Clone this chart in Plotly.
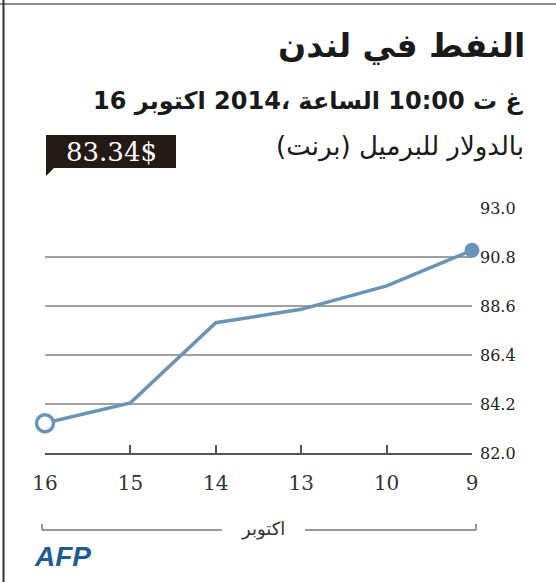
import plotly.graph_objects as go

# ---- data ----
days = ["16", "15", "14", "13", "10", "9"]
prices = [83.34, 84.25, 87.85, 88.45, 89.5, 91.1]
y_ticks = [82.0, 84.2, 86.4, 88.6, 90.8, 93.0]
current_label = "83.34$"
title = "النفط في لندن"
subtitle = "غ ت 10:00 الساعة ،2014 اكتوبر 16"
unit_text = "بالدولار للبرميل (برنت)"
month_text = "اكتوبر"
source_text = "AFP"

W, H = 556, 582
L, R, T, B = 45, 472, 208, 453  # plot area in pixels


def px(x):
    return (x - L) / (R - L)


def py(y):
    return (B - y) / (B - T)


LINE = "#6a93b8"
SERIF = "DejaVu Serif, Liberation Serif, serif"
SANS = "DejaVu Sans, Noto Sans, sans-serif"

fig = go.Figure()
fig.add_trace(go.Scatter(
    x=days, y=prices, mode="lines",
    line=dict(color=LINE, width=3.5), cliponaxis=False, hoverinfo="skip",
    showlegend=False))
fig.add_trace(go.Scatter(
    x=[days[0]], y=[prices[0]], mode="markers",
    marker=dict(size=17, color="white", line=dict(color=LINE, width=3.5)),
    cliponaxis=False, showlegend=False))
fig.add_trace(go.Scatter(
    x=[days[-1]], y=[prices[-1]], mode="markers",
    marker=dict(size=15, color=LINE, line=dict(color=LINE, width=0)),
    cliponaxis=False, showlegend=False))

shapes = []
shapes.append(dict(type="line", xref="x", yref="paper", x0=days[0], x1=days[0],
                   y0=py(170), y1=py(415),
                   line=dict(color="#888", width=1.5, dash="dot"), layer="below"))
shapes.append(dict(type="rect", xref="paper", yref="paper",
                   x0=px(46), x1=px(176), y0=py(168), y1=py(135),
                   fillcolor="#231a15", line=dict(width=0)))
shapes.append(dict(type="path", xref="paper", yref="paper",
                   path=f"M {px(46)},{py(167)} L {px(46)},{py(176)} L {px(55)},{py(167)} Z",
                   fillcolor="#231a15", line=dict(width=0)))
for x0, x1 in [(42, 222), (305, 476)]:
    shapes.append(dict(type="line", xref="paper", yref="paper",
                       x0=px(x0), x1=px(x1), y0=py(530), y1=py(530),
                       line=dict(color="#777", width=1.5)))
for xe in (42, 476):
    shapes.append(dict(type="line", xref="paper", yref="paper",
                       x0=px(xe), x1=px(xe), y0=py(530), y1=py(524),
                       line=dict(color="#777", width=1.5)))
shapes.append(dict(type="line", xref="paper", yref="paper",
                   x0=px(0), x1=px(W), y0=py(4), y1=py(4),
                   line=dict(color="#8a8a8a", width=2)))
shapes.append(dict(type="line", xref="paper", yref="paper",
                   x0=px(3.5), x1=px(3.5), y0=py(0), y1=py(H),
                   line=dict(color="#333", width=2)))

annotations = [
    dict(text=f"<b>{title}</b>", x=px(527), y=py(45), xref="paper", yref="paper",
         xanchor="right", yanchor="middle", showarrow=False,
         font=dict(family=SANS, size=33, color="#1a1a1a")),
    dict(text=f"<b>{subtitle}</b>", x=px(526), y=py(101), xref="paper", yref="paper",
         xanchor="right", yanchor="middle", showarrow=False,
         font=dict(family=SANS, size=24, color="#1a1a1a")),
    dict(text=unit_text, x=px(526), y=py(146), xref="paper", yref="paper",
         xanchor="right", yanchor="middle", showarrow=False,
         font=dict(family=SANS, size=26, color="#1a1a1a")),
    dict(text=current_label, x=px(111), y=py(152), xref="paper", yref="paper",
         xanchor="center", yanchor="middle", showarrow=False,
         font=dict(family=SERIF, size=26, color="white")),
    dict(text=month_text, x=px(263), y=py(529), xref="paper", yref="paper",
         xanchor="center", yanchor="middle", showarrow=False,
         font=dict(family=SANS, size=18, color="#333")),
    dict(text=f"<b><i>{source_text}</i></b>", x=px(32), y=py(556), xref="paper",
         yref="paper", xanchor="left", yanchor="middle", showarrow=False,
         font=dict(family="Liberation Sans, Arial, sans-serif", size=28,
                   color="#1d5c95")),
]

fig.update_layout(
    width=W, height=H,
    margin=dict(l=L, r=W - R, t=T, b=H - B, pad=0),
    paper_bgcolor="white", plot_bgcolor="white",
    shapes=shapes, annotations=annotations, showlegend=False,
    xaxis=dict(type="category", range=[0, len(days) - 1],
               showgrid=False, zeroline=False,
               showline=True, linecolor="#555", linewidth=2,
               ticks="inside", ticklen=8, tickwidth=1.5, tickcolor="#555",
               tickfont=dict(family=SERIF, size=20, color="#333"),
               ticklabelstandoff=11, fixedrange=True),
    yaxis=dict(side="right", range=[82.0, 93.0], tickvals=y_ticks,
               ticktext=[f"{v:.1f}" for v in y_ticks],
               showgrid=True, gridcolor="#a0a0a0", gridwidth=1.5,
               zeroline=False, showline=False, ticks="",
               tickfont=dict(family=SERIF, size=16, color="#222"),
               ticklabelstandoff=7, fixedrange=True),
)

fig.write_html("out.html")
